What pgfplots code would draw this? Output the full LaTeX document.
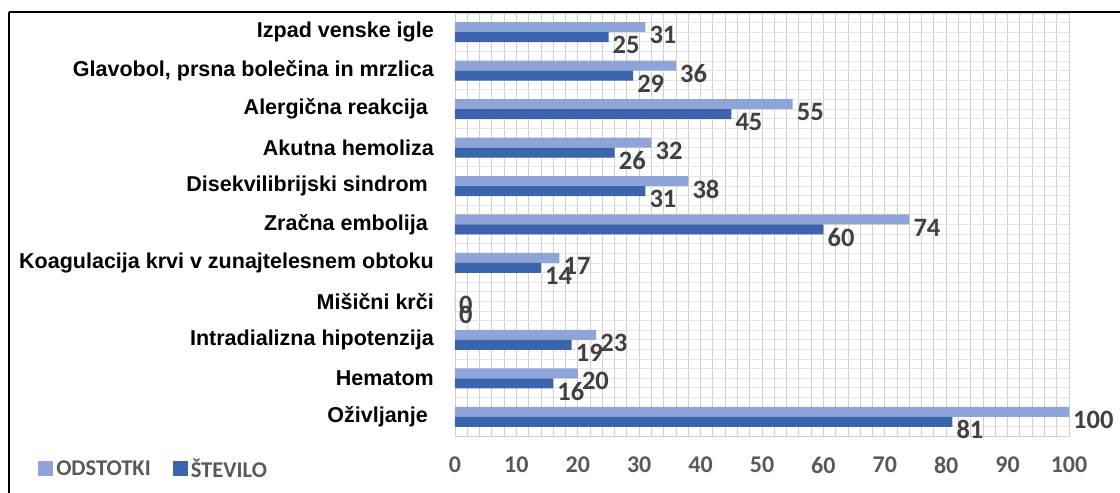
\documentclass[border=0pt]{standalone}
\usepackage{pgfplots}
\pgfplotsset{compat=1.18}
\usepackage{fontspec}
\setmainfont{Liberation Sans}
\newfontfamily\calibri{Carlito}
\definecolor{lightbar}{HTML}{8FA5D8}
\definecolor{darkbar}{HTML}{3C63AD}
\definecolor{labelgray}{HTML}{404040}
\definecolor{tickgray}{HTML}{595959}
\definecolor{gridv}{HTML}{CFCFCF}
\definecolor{gridh}{HTML}{E4E4E4}

\begin{document}
\begin{tikzpicture}[x=1pt,y=1pt]
\useasboundingbox (0,0) rectangle (1120,493);
% outer frame (cropped on the right and bottom)
\draw[black, line width=2pt] (9,481) -- (1120,481);
\draw[black, line width=2pt] (9,481) -- (9,0);

\begin{axis}[
  at={(455pt,57pt)}, anchor=south west,
  scale only axis,
  width=614pt, height=423pt,
  xmin=0, xmax=100,
  ymin=-0.5, ymax=10.5,
  xtick={0,10,...,100},
  minor xtick={0,2,...,100},
  ytick={0,...,10},
  minor ytick={-0.5,-0.25,...,10.5},
  yticklabels={Oživljanje\kern6pt, Hematom, Intradializna hipotenzija, Mišični krči, Koagulacija krvi v zunajtelesnem obtoku, Zračna embolija\kern6pt, Disekvilibrijski sindrom\kern6pt, Akutna hemoliza, Alergična reakcija\kern6pt, {Glavobol, prsna bolečina in mrzlica}, Izpad venske igle},
  xmajorgrids, xminorgrids,
  yminorgrids,
  major x grid style={draw=gridv, line width=0.9pt},
  minor x grid style={draw=gridv, line width=0.9pt},
  minor y grid style={draw=gridh, line width=0.9pt},
  axis line style={draw=gridv, line width=0.9pt},
  tick style={draw=none},
  major tick length=0pt, minor tick length=0pt,
  /pgf/number format/assume math mode=true,
  yticklabel style={font=\bfseries\fontsize{21.5}{24}\selectfont, text=black, anchor=east, inner sep=0pt, xshift=-21pt},
  xticklabel style={font=\calibri\bfseries\fontsize{24}{28}\selectfont, text=tickgray, anchor=north, inner sep=0pt, yshift=-21pt},
  xbar, bar width=10pt,
  clip=false,
  nodes near coords,
  every node near coord/.append style={anchor=west, xshift=4pt, yshift=-8pt, inner sep=0pt, font=\calibri\bfseries\fontsize{26.5}{30}\selectfont, text=labelgray},
  legend columns=2,
  legend style={draw=none, fill=none, inner sep=0pt, at={(-0.679,-0.078)}, anchor=west,
    font=\calibri\bfseries\fontsize{22.5}{26}\selectfont, text=tickgray,
    nodes={inner sep=0pt},
    /tikz/every odd column/.append style={column sep=3pt},
    /tikz/every even column/.append style={column sep=22pt}},
  legend image code/.code={\fill[#1] (0pt,-7pt) rectangle (15pt,8pt);},
]
\addplot[fill=lightbar, draw=none, bar shift=5pt] coordinates {
  (100,0) (20,1) (23,2) (0,3) (17,4) (74,5) (38,6) (32,7) (55,8) (36,9) (31,10)
};
\addlegendentry{ODSTOTKI}
\addplot[fill=darkbar, draw=none, bar shift=-5pt] coordinates {
  (81,0) (16,1) (19,2) (0,3) (14,4) (60,5) (31,6) (26,7) (45,8) (29,9) (25,10)
};
\addlegendentry{ŠTEVILO}
\end{axis}
\end{tikzpicture}
\end{document}
